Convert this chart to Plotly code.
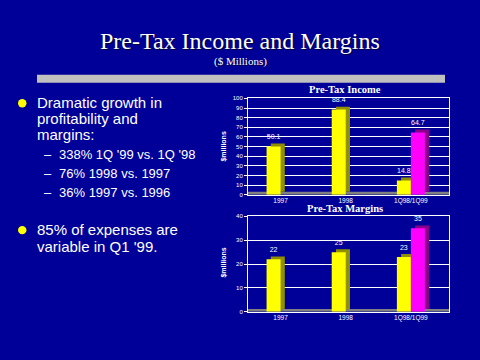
import plotly.graph_objects as go

W, H = 480, 360
BG = "#000099"

# ---- data ----
categories = ["1997", "1998", "1Q98/1Q99"]
income_a = [50.1, 88.4, 14.8]          # yellow series
income_b = [None, None, 64.7]          # magenta series (1Q99)
income_a_lbl = ["50.1", "88.4", "14.8"]
income_b_lbl = ["", "", "64.7"]
margin_a = [22, 25, 23]
margin_b = [None, None, 35]
margin_a_lbl = ["22", "25", "23"]
margin_b_lbl = ["", "", "35"]
income_ticks = [0, 10, 20, 30, 40, 50, 60, 70, 80, 90, 100]
margin_ticks = [0, 10, 20, 30, 40]

bullet_lines = [
    ("Dramatic growth in", 101), ("profitability and", 117.5), ("margins:", 134)]
sub_lines = [("338% 1Q '99 vs. 1Q '98", 154), ("76% 1998 vs. 1997", 173),
             ("36% 1997 vs. 1996", 193)]
bullet2_lines = [("85% of expenses are", 230.5), ("variable in Q1 '99.", 247.5)]

def px(x):
    return x / W

def py(y):
    return 1 - y / H

fig = go.Figure()

BW = 0.215      # bar width in category units
DX = 0.065      # 3D depth offset (x)
idx = list(range(len(categories)))

def add_bars(vals, lbls, color, side, offset, xa, ya, dy):
    base = [dy if v is not None else None for v in vals]
    fig.add_trace(go.Bar(x=idx, y=vals, base=base, width=BW, offset=offset + DX,
                         marker=dict(color=side, line=dict(width=0)),
                         xaxis=xa, yaxis=ya, hoverinfo="skip", showlegend=False))
    fig.add_trace(go.Bar(x=idx, y=vals, width=BW, offset=offset,
                         marker=dict(color=color, line=dict(width=0)),
                         xaxis=xa, yaxis=ya, showlegend=False))
    # value labels above each bar
    fig.add_trace(go.Scatter(x=[i + offset + BW / 2 for i in idx], y=vals, mode="markers+text",
                             text=lbls, textposition="top center",
                             marker=dict(size=7, opacity=0),
                             textfont=dict(color="white", size=7, family="Liberation Sans"),
                             cliponaxis=False, xaxis=xa, yaxis=ya,
                             hoverinfo="skip", showlegend=False))

add_bars(income_a, income_a_lbl, "#FFFF00", "#8f8f00", -BW, "x", "y", 3)
add_bars(income_b, income_b_lbl, "#FF00FF", "#8a008a", 0, "x", "y", 3)
add_bars(margin_a, margin_a_lbl, "#FFFF00", "#8f8f00", -BW, "x2", "y2", 1.2)
add_bars(margin_b, margin_b_lbl, "#FF00FF", "#8a008a", 0, "x2", "y2", 1.2)

xdom = [px(248), px(449)]
axis_common = dict(showline=True, linecolor="white", linewidth=1, mirror=True)
xcommon = dict(domain=xdom, range=[-0.5, 2.585], tickvals=idx, ticktext=categories,
               showgrid=False, zeroline=False, ticks="", ticklabelstandoff=-1,
               tickfont=dict(color="white", size=6.5, family="Liberation Sans"), **axis_common)
ycommon = dict(gridcolor="white", gridwidth=1, ticks="outside", ticklen=3, tickcolor="white",
               tickfont=dict(color="white", size=6, family="Liberation Sans"),
               zeroline=False, **axis_common)
fig.update_layout(
    width=W, height=H, paper_bgcolor=BG, plot_bgcolor=BG,
    margin=dict(l=0, r=0, t=0, b=0), barmode="overlay",
    xaxis=dict(anchor="y", **xcommon),
    yaxis=dict(domain=[py(195), py(97)], range=[0, 100], tickvals=income_ticks,
               anchor="x", **ycommon),
    xaxis2=dict(anchor="y2", **xcommon),
    yaxis2=dict(domain=[py(314), py(217)], range=[0, 40], tickvals=margin_ticks,
                anchor="x2", **ycommon),
)

shapes = [
    dict(type="rect", xref="paper", yref="paper", x0=px(37), x1=px(445), y0=py(81), y1=py(73),
         fillcolor="#C0C0C0", line=dict(width=0), layer="above"),
    dict(type="rect", xref="x domain", yref="y", x0=0, x1=1, y0=0, y1=3,
         fillcolor="#808080", line=dict(width=0), layer="below"),
    dict(type="rect", xref="x2 domain", yref="y2", x0=0, x1=1, y0=0, y1=1.2,
         fillcolor="#808080", line=dict(width=0), layer="below"),
]
for cy in (102, 231):
    shapes.append(dict(type="circle", xref="paper", yref="paper",
                       x0=px(18), x1=px(26.5), y0=py(cy + 4.25), y1=py(cy - 4.25),
                       fillcolor="#FFFF00", line=dict(width=0)))
fig.update_layout(shapes=shapes)

ann = []
shadow = "1px 1px 1px #000033"
ann.append(dict(text="Pre-Tax Income and Margins", x=0.5, y=py(39), xref="paper", yref="paper",
                showarrow=False, xanchor="center", yanchor="middle",
                font=dict(family="Liberation Serif", size=24, color="white", shadow=shadow)))
ann.append(dict(text="($ Millions)", x=0.5, y=py(60), xref="paper", yref="paper",
                showarrow=False, xanchor="center", yanchor="middle",
                font=dict(family="Liberation Serif", size=11, color="white", shadow=shadow)))
ann.append(dict(text="<b>Pre-Tax Income</b>", x=px(345), y=py(88), xref="paper", yref="paper",
                showarrow=False, xanchor="center", yanchor="middle",
                font=dict(family="Liberation Serif", size=10.5, color="white")))
ann.append(dict(text="<b>Pre-Tax Margins</b>", x=px(345), y=py(208.5), xref="paper", yref="paper",
                showarrow=False, xanchor="center", yanchor="middle",
                font=dict(family="Liberation Serif", size=10.5, color="white")))
for cy in (146, 264):
    ann.append(dict(text="<b>$millions</b>", x=px(224), y=py(cy), xref="paper", yref="paper",
                    showarrow=False, xanchor="center", yanchor="middle", textangle=-90,
                    font=dict(family="Liberation Sans", size=7, color="white")))
for t, y in bullet_lines + bullet2_lines:
    ann.append(dict(text=t, x=px(35), y=py(y), xref="paper", yref="paper", showarrow=False,
                    xanchor="left", yanchor="middle",
                    font=dict(family="Liberation Sans", size=15, color="white")))
for t, y in sub_lines:
    ann.append(dict(text="–", x=px(42), y=py(y), xref="paper", yref="paper", showarrow=False,
                    xanchor="left", yanchor="middle",
                    font=dict(family="Liberation Sans", size=13, color="white")))
    ann.append(dict(text=t, x=px(57), y=py(y), xref="paper", yref="paper", showarrow=False,
                    xanchor="left", yanchor="middle",
                    font=dict(family="Liberation Sans", size=13, color="white")))
fig.update_layout(annotations=ann)

fig.write_html("out.html", config={"displayModeBar": False},
               post_script="document.body.style.margin='0';document.body.style.overflow='hidden';")
